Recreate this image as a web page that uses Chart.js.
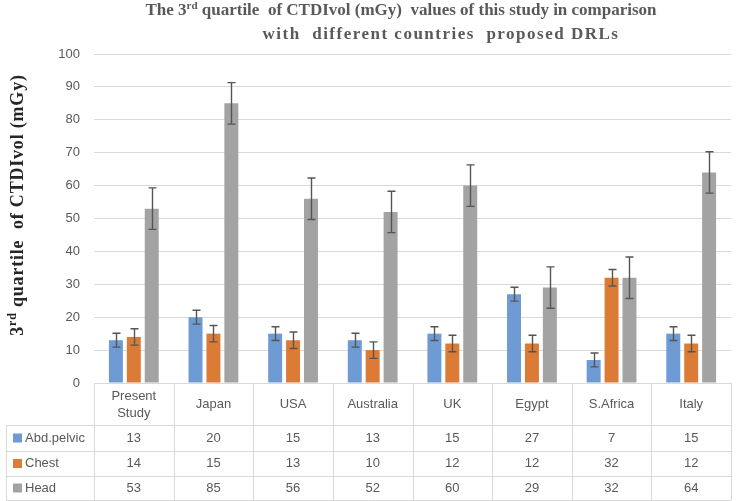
<!DOCTYPE html>
<html>
<head>
<meta charset="utf-8">
<script src="https://cdn.jsdelivr.net/npm/chart.js@4.4.1/dist/chart.umd.min.js"></script>
<style>
  html, body { margin: 0; padding: 0; background: #ffffff; }
  #wrap { width: 743px; height: 501px; position: relative; }
</style>
</head>
<body>
<div id="wrap"><canvas id="c" width="743" height="501"></canvas></div>
<script>
// ---- Data ----
const categories = ['Present Study', 'Japan', 'USA', 'Australia', 'UK', 'Egypt', 'S.Africa', 'Italy'];
const seriesNames = ['Abd.pelvic', 'Chest', 'Head'];
const abdPelvic = [13, 20, 15, 13, 15, 27, 7, 15];
const chest = [14, 15, 13, 10, 12, 12, 32, 12];
const head = [53, 85, 56, 52, 60, 29, 32, 64];
// error bar half-lengths
const abdErr = [2.1, 2.1, 2.1, 2.1, 2.1, 2.1, 2.1, 2.1];
const chestErr = [2.5, 2.5, 2.5, 2.5, 2.5, 2.5, 2.5, 2.5];
const headErr = [6.3, 6.3, 6.3, 6.3, 6.3, 6.3, 6.3, 6.3];
const yTicks = [0, 10, 20, 30, 40, 50, 60, 70, 80, 90, 100];

const colors = ['#6e9bd3', '#dc7b36', '#a3a3a3'];
const seriesValues = [abdPelvic, chest, head];
const seriesErrors = [abdErr, chestErr, headErr];

const SANS = '"Liberation Sans", Arial, sans-serif';
const SERIF = '"Liberation Serif", "Times New Roman", serif';

const errorBarPlugin = {
  id: 'errorBars',
  afterDatasetsDraw(chart) {
    const ctx = chart.ctx;
    const y = chart.scales.y;
    ctx.save();
    ctx.strokeStyle = '#555555';
    ctx.lineWidth = 1.4;
    chart.data.datasets.forEach((ds, di) => {
      const meta = chart.getDatasetMeta(di);
      meta.data.forEach((bar, i) => {
        const v = ds.data[i];
        const e = ds.errors[i];
        const x = Math.round(bar.x) + 0.5;
        const yTop = y.getPixelForValue(v + e);
        const yBot = y.getPixelForValue(v - e);
        ctx.beginPath();
        ctx.moveTo(x, yTop); ctx.lineTo(x, yBot);
        ctx.moveTo(x - 4, yTop); ctx.lineTo(x + 4, yTop);
        ctx.moveTo(x - 4, yBot); ctx.lineTo(x + 4, yBot);
        ctx.stroke();
      });
    });
    ctx.restore();
  }
};

function drawSup(ctx, x, y, base, sup, rest, size, align, spacing) {
  ctx.letterSpacing = (spacing || 0) + 'px';
  ctx.font = 'bold ' + size + 'px ' + SERIF;
  const w1 = ctx.measureText(base).width;
  ctx.font = 'bold ' + Math.round(size * 0.65) + 'px ' + SERIF;
  const w2 = ctx.measureText(sup).width;
  ctx.font = 'bold ' + size + 'px ' + SERIF;
  const w3 = ctx.measureText(rest).width;
  const total = w1 + w2 + w3;
  let sx = align === 'center' ? x - total / 2 : x;
  ctx.textAlign = 'left';
  ctx.textBaseline = 'alphabetic';
  ctx.fillText(base, sx, y);
  ctx.font = 'bold ' + Math.round(size * 0.65) + 'px ' + SERIF;
  ctx.fillText(sup, sx + w1, y - size * 0.38);
  ctx.font = 'bold ' + size + 'px ' + SERIF;
  ctx.fillText(rest, sx + w1 + w2, y);
  ctx.letterSpacing = '0px';
}

const decorPlugin = {
  id: 'decor',
  afterDraw(chart) {
    const ctx = chart.ctx;
    const xs = chart.scales.x;
    const area = chart.chartArea;
    ctx.save();
    // Title
    ctx.fillStyle = '#595959';
    drawSup(ctx, 401, 15, 'The 3', 'rd', ' quartile  of CTDIvol (mGy)  values of this study in comparison', 17, 'center', 0);
    ctx.font = 'bold 17px ' + SERIF;
    ctx.letterSpacing = '1.5px';
    ctx.textAlign = 'center';
    ctx.fillText('with  different countries  proposed DRLs', 441, 39);
    ctx.letterSpacing = '0px';

    // Y axis title
    ctx.save();
    ctx.translate(23, 205);
    ctx.rotate(-Math.PI / 2);
    ctx.fillStyle = '#262626';
    drawSup(ctx, 0, 0, '3', 'rd', ' quartile  of CTDIvol (mGy)', 18, 'center', 0.8);
    ctx.restore();

    // Data table
    const n = categories.length;
    const colW = (area.right - area.left) / n;
    const top = area.bottom;
    const rowLines = [425, 451, 476, 500];
    const tableLeft = 6;
    ctx.strokeStyle = '#d9d9d9';
    ctx.lineWidth = 1;
    ctx.beginPath();
    rowLines.forEach(yy => {
      ctx.moveTo(tableLeft, yy + 0.5);
      ctx.lineTo(area.right, yy + 0.5);
    });
    for (let i = 0; i <= n; i++) {
      const xx = Math.round(area.left + i * colW) + 0.5;
      ctx.moveTo(xx, top);
      ctx.lineTo(xx, rowLines[3]);
    }
    ctx.moveTo(tableLeft + 0.5, rowLines[0]);
    ctx.lineTo(tableLeft + 0.5, rowLines[3]);
    ctx.stroke();

    ctx.fillStyle = '#595959';
    ctx.font = '13px ' + SANS;
    ctx.textAlign = 'center';
    ctx.textBaseline = 'middle';
    categories.forEach((cat, i) => {
      const cx = xs.getPixelForValue(i);
      const words = cat.split(' ');
      if (ctx.measureText(cat).width > colW - 8 && words.length > 1) {
        ctx.fillText(words[0], cx, 396);
        ctx.fillText(words.slice(1).join(' '), cx, 413);
      } else {
        ctx.fillText(cat, cx, 404);
      }
    });
    const rowMid = [438, 463.5, 488];
    seriesValues.forEach((vals, r) => {
      vals.forEach((v, i) => {
        ctx.textAlign = 'center';
        ctx.fillText(String(v), xs.getPixelForValue(i), rowMid[r]);
      });
      ctx.fillStyle = colors[r];
      ctx.fillRect(13, rowMid[r] - 4.5, 9, 9);
      ctx.fillStyle = '#595959';
      ctx.textAlign = 'left';
      ctx.fillText(seriesNames[r], 25, rowMid[r]);
    });
    ctx.restore();
  }
};

new Chart(document.getElementById('c'), {
  type: 'bar',
  data: {
    labels: categories,
    datasets: seriesNames.map((name, k) => ({
      label: name,
      data: seriesValues[k],
      errors: seriesErrors[k],
      backgroundColor: colors[k],
      categoryPercentage: 0.675,
      barPercentage: 0.78
    }))
  },
  options: {
    responsive: false,
    animation: false,
    devicePixelRatio: 1,
    layout: { padding: { top: 54, right: 12, bottom: 118, left: 0 } },
    plugins: {
      legend: { display: false },
      title: { display: false },
      tooltip: { enabled: false }
    },
    scales: {
      x: { display: false },
      y: {
        min: 0, max: 100,
        afterFit(scale) { scale.width = 94; },
        afterBuildTicks(scale) { scale.ticks = yTicks.map(v => ({ value: v })); },
        border: { display: false },
        grid: { color: '#d9d9d9', lineWidth: 1, drawTicks: false },
        ticks: { color: '#595959', font: { family: SANS, size: 13 }, padding: 14 }
      }
    }
  },
  plugins: [errorBarPlugin, decorPlugin]
});
</script>
</body>
</html>
